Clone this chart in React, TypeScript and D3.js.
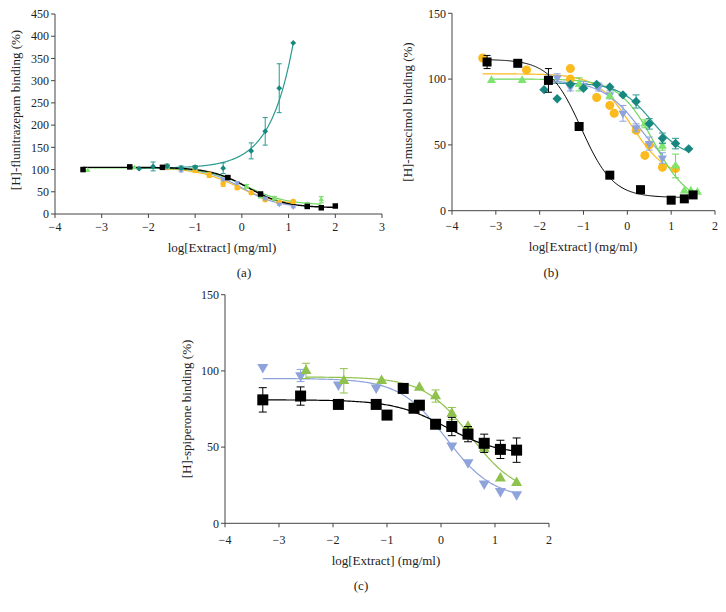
import React from "react";
import * as d3 from "d3";

// ---------- Panel (a): [3H]-flunitrazepam ----------
const A_xTicks = [-4, -3, -2, -1, 0, 1, 2, 3];
const A_yTicks = [0, 50, 100, 150, 200, 250, 300, 350, 400, 450];
const A_teal_x = [-2.2, -1.9, -1.6, -1.3, -1.0, -0.4, 0.2, 0.5, 0.8, 1.1];
const A_teal_y = [102, 107, 108, 104, 105, 103, 142, 186, 283, 385];
const A_teal_err = [0, 10, 4, 4, 4, 12, 18, 31, 55, 0];
const A_black_x = [-3.4, -2.4, -1.7, -0.3, 0.4, 1.4, 1.7, 2.0];
const A_black_y = [100, 106, 105, 82, 45, 17, 14, 18];
const A_black_err = [0, 0, 0, 3, 3, 2, 0, 0];
const A_yellow_x = [-1.6, -1.0, -0.7, -0.4, -0.1, 0.2, 0.5, 0.8, 1.1];
const A_yellow_y = [106, 98, 88, 68, 59, 48, 32, 26, 28];
const A_yellow_err = [6, 4, 6, 6, 4, 3, 3, 2, 3];
const A_blue_x = [-1.6, -1.3, -0.4, -0.1, 0.5, 0.8, 1.1];
const A_blue_y = [105, 98, 78, 70, 35, 22, 16];
const A_blue_err = [3, 3, 3, 3, 3, 2, 2];
const A_green_x = [-3.3, -2.3, -1.6, -1.0, 0.1, 0.4, 0.7, 1.4, 1.7];
const A_green_y = [98, 104, 106, 106, 62, 40, 35, 22, 32];
const A_green_err = [0, 0, 3, 3, 4, 4, 4, 3, 7];
// fits: logistic [top, bottom, logEC50, hill]; teal: exponential [base, amp, k]
const A_fit_teal = [103, 29.9, 2.04];
const A_fit_black = [105, 14, 0.13, 1.08];
const A_fit_yellow = [104, 20, -0.1, 1.0];
const A_fit_blue = [104, 14, 0.0, 1.1];
const A_fit_green = [104, 20, 0.1, 1.0];

// ---------- Panel (b): [3H]-muscimol ----------
const B_xTicks = [-4, -3, -2, -1, 0, 1, 2];
const B_yTicks = [0, 50, 100, 150];
const B_black_x = [-3.2, -2.5, -1.8, -1.1, -0.4, 0.3, 1.0, 1.3, 1.5];
const B_black_y = [113, 112, 99, 64, 27, 16, 8, 9, 12];
const B_black_err = [5, 0, 9, 0, 0, 0, 0, 0, 0];
const B_yellow_x = [-3.3, -2.3, -1.3, -1.3, -0.7, -0.4, -0.3, 0.2, 0.4, 0.5, 0.8, 1.1];
const B_yellow_y = [116, 107, 108, 100, 86, 80, 74, 61, 42, 50, 33, 32];
const B_yellow_err = [0, 0, 0, 0, 0, 0, 0, 0, 0, 0, 0, 0];
const B_blue_x = [-1.8, -1.6, -1.3, -1.0, -0.65, -0.4, -0.1, 0.2, 0.5, 0.8];
const B_blue_y = [100, 101, 94, 95, 94, 88, 74, 63, 51, 40];
const B_blue_err = [3, 3, 3, 3, 3, 3, 6, 3, 5, 4];
const B_green_x = [-3.1, -2.4, -1.8, -1.1, -0.4, 0.4, 0.8, 1.1, 1.3, 1.45, 1.6];
const B_green_y = [99, 99, 100, 96, 87, 66, 49, 34, 15, 15, 14];
const B_green_err = [0, 0, 0, 5, 0, 3, 3, 9, 0, 0, 0];
const B_teal_x = [-1.9, -1.6, -1.3, -1.0, -0.7, -0.4, -0.1, 0.2, 0.5, 0.8, 1.1, 1.4];
const B_teal_y = [92, 85, 96, 93, 96, 94, 88, 83, 66, 55, 51, 47];
const B_teal_err = [0, 0, 0, 0, 0, 0, 0, 5, 4, 4, 4, 0];
const B_fit_black = [115, 10, -1.05, 1.2];
const B_fit_yellow = [104, 25, 0.1, 1.1];
const B_fit_blue = [99, 25, 0.3, 1.0];
const B_fit_green = [100, 5, 0.6, 1.1];
const B_fit_teal = [97, 40, 0.55, 1.2];

// ---------- Panel (c): [3H]-spiperone ----------
const C_xTicks = [-4, -3, -2, -1, 0, 1, 2];
const C_yTicks = [0, 50, 100, 150];
const C_black_x = [-3.3, -2.6, -1.9, -1.2, -1.0, -0.7, -0.5, -0.4, -0.1, 0.2, 0.5, 0.8, 1.1, 1.4];
const C_black_y = [81, 83.5, 78, 78, 71, 88.5, 75.5, 77.5, 65, 63.5, 58.5, 52.5, 48.5, 48];
const C_black_err = [8, 6, 0, 0, 0, 0, 0, 0, 0, 6, 5, 6, 6, 8];
const C_blue_x = [-3.3, -2.6, -1.9, -1.2, 0.2, 0.5, 0.8, 1.1, 1.4];
const C_blue_y = [102.5, 97, 91, 89, 51, 40, 26, 21, 19];
const C_blue_err = [0, 4, 0, 0, 0, 0, 0, 0, 0];
const C_green_x = [-2.5, -1.8, -1.1, -0.4, -0.1, 0.2, 0.5, 0.8, 1.1, 1.4];
const C_green_y = [100, 93.5, 93.5, 89, 83.5, 72, 63.5, 49, 29.5, 26.5];
const C_green_err = [5, 8, 0, 0, 4, 4, 0, 0, 0, 0];
const C_fit_black = [81, 45, 0.1, 0.9];
const C_fit_blue = [95, 16, 0.1, 1.0];
const C_fit_green = [96, 18, 0.55, 1.0];

// ---------- styles ----------
const TEAL = "#17877f";
const TEAL_LINE = "#2a9990";
const BLACK = "#000000";
const YELLOW = "#fbba1e";
const BLUE = "#8ea3dc";
const LGREEN = "#7fe36f";
const GREEN_C = "#8fc24c";
const AXIS = "#444";
const FONT = "'Liberation Serif', 'DejaVu Serif', serif";

type Fit = { kind: "logistic" | "exp"; p: number[] };

function fitValue(f: Fit, x: number) {
  if (f.kind === "exp") return f.p[0] + f.p[1] * Math.exp(f.p[2] * x);
  const [top, bottom, c, h] = f.p;
  return bottom + (top - bottom) / (1 + Math.pow(10, (x - c) * h));
}

type Series = {
  xs: number[];
  ys: number[];
  errs: number[];
  fit: Fit;
  shape: "square" | "circle" | "diamond" | "triUp" | "triDown";
  color: string;
  lineColor: string;
  lineWidth: number;
};

function markerPath(shape: Series["shape"], s: number) {
  switch (shape) {
    case "square":
      return d3.symbol().type(d3.symbolSquare).size(s * s)()!;
    case "circle":
      return d3.symbol().type(d3.symbolCircle).size((Math.PI * s * s) / 4)()!;
    case "diamond":
      return d3.symbol().type(d3.symbolSquare).size(s * s * 0.55)()!;
    case "triUp":
    case "triDown":
      return d3.symbol().type(d3.symbolTriangle).size((Math.sqrt(3) / 4) * s * s)()!;
  }
}

function markerTransform(shape: Series["shape"], x: number, y: number) {
  if (shape === "diamond") return `translate(${x},${y}) rotate(45)`;
  if (shape === "triDown") return `translate(${x},${y - 0}) rotate(180)`;
  return `translate(${x},${y})`;
}

type PanelProps = {
  xDomain: [number, number];
  yDomain: [number, number];
  xRange: [number, number];
  yRange: [number, number];
  xTicks: number[];
  yTicks: number[];
  series: Series[];
  markerSize: number;
  capW: number;
  yTitle: string;
  yTitleX: number;
  yTitleY: number;
  xTitleX: number;
  xTitleY: number;
  tickLabelDy: number;
  caption: string;
  captionX: number;
  captionY: number;
};

const fmt = (v: number) => String(v).replace("-", "\u2212");

function Panel(p: PanelProps) {
  const x = d3.scaleLinear().domain(p.xDomain).range(p.xRange);
  const y = d3.scaleLinear().domain(p.yDomain).range(p.yRange);
  const line = d3
    .line<number>()
    .x((d) => x(d[0]))
    .y((d) => y(d[1]))
    .curve(d3.curveLinear);
  const x0 = p.xRange[0];
  const y0 = p.yRange[0];
  return (
    <g fontFamily={FONT}>
      {/* axes */}
      <line x1={x0} x2={x0} y1={p.yRange[1]} y2={y0} stroke={AXIS} strokeWidth={1} />
      <line x1={x0} x2={p.xRange[1]} y1={y0} y2={y0} stroke={AXIS} strokeWidth={1} />
      {p.yTicks.map((t) => (
        <g key={"y" + t}>
          <line x1={x0 - 4} x2={x0} y1={y(t)} y2={y(t)} stroke={AXIS} />
          <text x={x0 - 6} y={y(t)} dy="0.35em" textAnchor="end" fontSize={12} fill="#222">
            {fmt(t)}
          </text>
        </g>
      ))}
      {p.xTicks.map((t) => (
        <g key={"x" + t}>
          <line x1={x(t)} x2={x(t)} y1={y0} y2={y0 + 4} stroke={AXIS} />
          <text x={x(t)} y={y0 + p.tickLabelDy} textAnchor="middle" fontSize={12} fill="#222">
            {fmt(t)}
          </text>
        </g>
      ))}
      <text
        transform={`translate(${p.yTitleX},${p.yTitleY}) rotate(-90)`}
        textAnchor="middle"
        dy="0.35em"
        fontSize={13}
        fill="#222"
      >
        {p.yTitle}
      </text>
      <text x={p.xTitleX} y={p.xTitleY} textAnchor="middle" fontSize={13} fill="#222">
        log[Extract] (mg/ml)
      </text>
      <text x={p.captionX} y={p.captionY} textAnchor="middle" fontSize={13} fill="#222">
        {p.caption}
      </text>
      {/* curves */}
      {p.series.map((s, i) => {
        const lo = d3.min(s.xs)!;
        const hi = d3.max(s.xs)!;
        const pts = d3.range(lo, hi + 1e-9, (hi - lo) / 200).map((v) => [v, fitValue(s.fit, v)]);
        return (
          <path key={"c" + i} d={line(pts as any)!} fill="none" stroke={s.lineColor} strokeWidth={s.lineWidth} />
        );
      })}
      {/* error bars + markers */}
      {p.series.map((s, i) => (
        <g key={"m" + i}>
          {s.xs.map((xv, j) => {
            const e = s.errs[j];
            if (!e) return null;
            const cx = x(xv);
            return (
              <g key={j} stroke={s.lineColor} strokeWidth={1}>
                <line x1={cx} x2={cx} y1={y(s.ys[j] - e)} y2={y(s.ys[j] + e)} />
                <line x1={cx - p.capW / 2} x2={cx + p.capW / 2} y1={y(s.ys[j] + e)} y2={y(s.ys[j] + e)} />
                <line x1={cx - p.capW / 2} x2={cx + p.capW / 2} y1={y(s.ys[j] - e)} y2={y(s.ys[j] - e)} />
              </g>
            );
          })}
          {s.xs.map((xv, j) => (
            <path
              key={"p" + j}
              d={markerPath(s.shape, p.markerSize)}
              transform={markerTransform(s.shape, x(xv), y(s.ys[j]))}
              fill={s.color}
            />
          ))}
        </g>
      ))}
    </g>
  );
}

const mk = (
  xs: number[],
  ys: number[],
  errs: number[],
  fitP: number[],
  shape: Series["shape"],
  color: string,
  lineColor: string,
  lineWidth = 1.2,
  kind: Fit["kind"] = "logistic"
): Series => ({ xs, ys, errs, fit: { kind, p: fitP }, shape, color, lineColor, lineWidth });

export default function App() {
  const seriesA: Series[] = [
    mk(A_yellow_x, A_yellow_y, A_yellow_err, A_fit_yellow, "circle", YELLOW, YELLOW),
    mk(A_blue_x, A_blue_y, A_blue_err, A_fit_blue, "triDown", BLUE, BLUE),
    mk(A_green_x, A_green_y, A_green_err, A_fit_green, "triUp", LGREEN, "#6cd85c"),
    mk(A_teal_x, A_teal_y, A_teal_err, A_fit_teal, "diamond", TEAL, TEAL_LINE, 1.2, "exp"),
    mk(A_black_x, A_black_y, A_black_err, A_fit_black, "square", BLACK, BLACK, 1.4),
  ];
  const seriesB: Series[] = [
    mk(B_yellow_x, B_yellow_y, B_yellow_err, B_fit_yellow, "circle", YELLOW, YELLOW),
    mk(B_blue_x, B_blue_y, B_blue_err, B_fit_blue, "triDown", BLUE, BLUE),
    mk(B_green_x, B_green_y, B_green_err, B_fit_green, "triUp", LGREEN, "#6cd85c"),
    mk(B_teal_x, B_teal_y, B_teal_err, B_fit_teal, "diamond", TEAL, TEAL_LINE),
    mk(B_black_x, B_black_y, B_black_err, B_fit_black, "square", BLACK, BLACK, 1),
  ];
  const seriesC: Series[] = [
    mk(C_blue_x, C_blue_y, C_blue_err, C_fit_blue, "triDown", BLUE, BLUE),
    mk(C_green_x, C_green_y, C_green_err, C_fit_green, "triUp", GREEN_C, GREEN_C),
    mk(C_black_x, C_black_y, C_black_err, C_fit_black, "square", BLACK, BLACK),
  ];
  return (
    <svg
      width={726}
      height={612}
      style={{ position: "absolute", left: 0, top: 0, background: "#fff" }}
    >
      <rect width={726} height={612} fill="#fff" />
      <Panel
        xDomain={[-4, 3]}
        yDomain={[0, 450]}
        xRange={[55, 382]}
        yRange={[214, 14]}
        xTicks={A_xTicks}
        yTicks={A_yTicks}
        series={seriesA}
        markerSize={5.5}
        capW={5}
        yTitle="[H]-flunitrazepam binding (%)"
        yTitleX={15}
        yTitleY={110}
        xTitleX={222}
        xTitleY={252}
        tickLabelDy={17}
        caption="(a)"
        captionX={244}
        captionY={277}
      />
      <Panel
        xDomain={[-4, 2]}
        yDomain={[0, 150]}
        xRange={[452, 715]}
        yRange={[210.7, 13.3]}
        xTicks={B_xTicks}
        yTicks={B_yTicks}
        series={seriesB}
        markerSize={9}
        capW={7}
        yTitle="[H]-muscimol binding (%)"
        yTitleX={407}
        yTitleY={112}
        xTitleX={583}
        xTitleY={251}
        tickLabelDy={19}
        caption="(b)"
        captionX={551}
        captionY={277}
      />
      <Panel
        xDomain={[-4, 2]}
        yDomain={[0, 150]}
        xRange={[225, 549]}
        yRange={[523.3, 294.7]}
        xTicks={C_xTicks}
        yTicks={C_yTicks}
        series={seriesC}
        markerSize={11}
        capW={8}
        yTitle="[H]-spiperone binding (%)"
        yTitleX={186}
        yTitleY={409}
        xTitleX={386}
        xTitleY={565}
        tickLabelDy={21}
        caption="(c)"
        captionX={361}
        captionY={590}
      />
    </svg>
  );
}
